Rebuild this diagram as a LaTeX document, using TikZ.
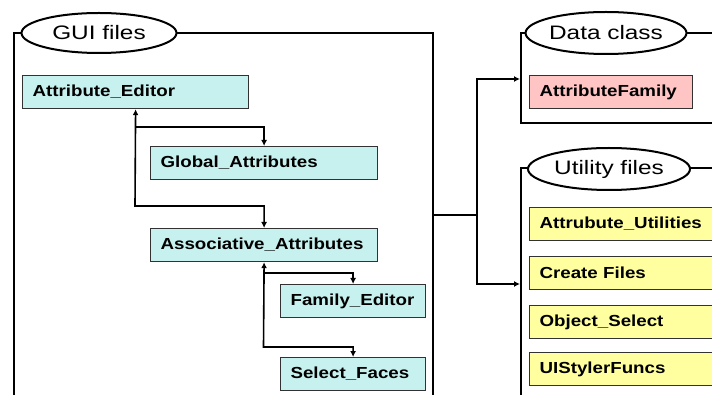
\documentclass[tikz,border=0pt]{standalone}
\usepackage{fontspec}
\setmainfont{Liberation Sans}[FakeStretch=1.25]
\newfontfamily\boxfont{Liberation Sans}[FakeStretch=1.17]
\usetikzlibrary{shapes.geometric,arrows.meta}
\definecolor{guicyan}{RGB}{198,241,238}
\definecolor{datapink}{RGB}{255,196,196}
\definecolor{utilyellow}{RGB}{255,255,160}
\definecolor{boxline}{RGB}{50,50,50}
\tikzset{
	filebox/.style={rectangle,draw=boxline,line width=1.2pt,anchor=north west,
		inner xsep=10pt,inner ysep=0pt,minimum height=33pt,align=left,
		font=\boxfont\fontsize{16}{19}\selectfont\bfseries},
	guibox/.style={filebox,fill=guicyan},
	databox/.style={filebox,fill=datapink},
	utilbox/.style={filebox,fill=utilyellow},
	group/.style={ellipse,draw,line width=2pt,fill=white,inner sep=0pt,
		font=\fontsize{19.5}{22}\selectfont},
	frame/.style={line width=2.4pt},
	conn/.style={line width=1.6pt},
}
\begin{document}
\begin{tikzpicture}[x=1pt,y=-1pt,>={Latex[length=6pt,width=6pt]}]
		\useasboundingbox (0,0) rectangle (712,395);
		\clip (0,0) rectangle (712,395);
		% frames
		\draw[frame] (14,400) -- (14,33) -- (433,33) -- (433,400);
		\draw[frame] (720,33) -- (521,33) -- (521,123) -- (720,123);
		\draw[frame] (720,168) -- (521,168) -- (521,400);
		\node[group,minimum width=155pt,minimum height=40pt] (gui) at (99,33) {GUI files};
		\node[group,minimum width=154pt,minimum height=42pt] (data) at (606,33) {Data class};
		\node[group,minimum width=162pt,minimum height=42pt] (util) at (609,169) {Utility files};
		% GUI files
		\node[guibox,text width=206pt] (ae) at (22,75) {Attribute\_Editor};
		\node[guibox,text width=207pt] (ga) at (150,146) {Global\_Attributes};
		\node[guibox,text width=207pt] (as) at (150,228) {Associative\_Attributes};
		\node[guibox,text width=125pt] (fe) at (280,284) {Family\_Editor};
		\node[guibox,text width=125pt] (sf) at (280,357) {Select\_Faces};
		% data class
		\node[databox,text width=143pt] (af) at (529,75) {AttributeFamily};
		% utility files
		\node[utilbox,text width=200pt] (u1) at (529,207) {Attrubute\_Utilities};
		\node[utilbox,text width=200pt] (u2) at (529,256) {Create Files};
		\node[utilbox,text width=200pt] (u3) at (529,305) {Object\_Select};
		\node[utilbox,text width=200pt] (u4) at (529,352) {UIStylerFuncs};
		% connectors
		\coordinate (b1) at (135,127);
		\coordinate (b2) at (135,206);
		\coordinate (b3) at (263.5,273);
		\coordinate (b4) at (263.5,347);
		\draw[conn,<->] (ae.south) -- (b2) -| (as.north);
		\draw[conn,->] (b1) -| (ga.north);
		\draw[conn,<->] (as.south) -- (b4) -| (sf.north);
		\draw[conn,->] (b3) -| (fe.north);
		\coordinate (guiR) at (433,215);
		\coordinate (fork) at (477,215);
		\coordinate (dataL) at (520,79);
		\coordinate (utilL) at (520,284);
		\draw[conn] (guiR) -- (fork);
		\draw[conn,->] (fork) |- (dataL);
		\draw[conn,->] (fork) |- (utilL);
	\end{tikzpicture}
\end{document}
